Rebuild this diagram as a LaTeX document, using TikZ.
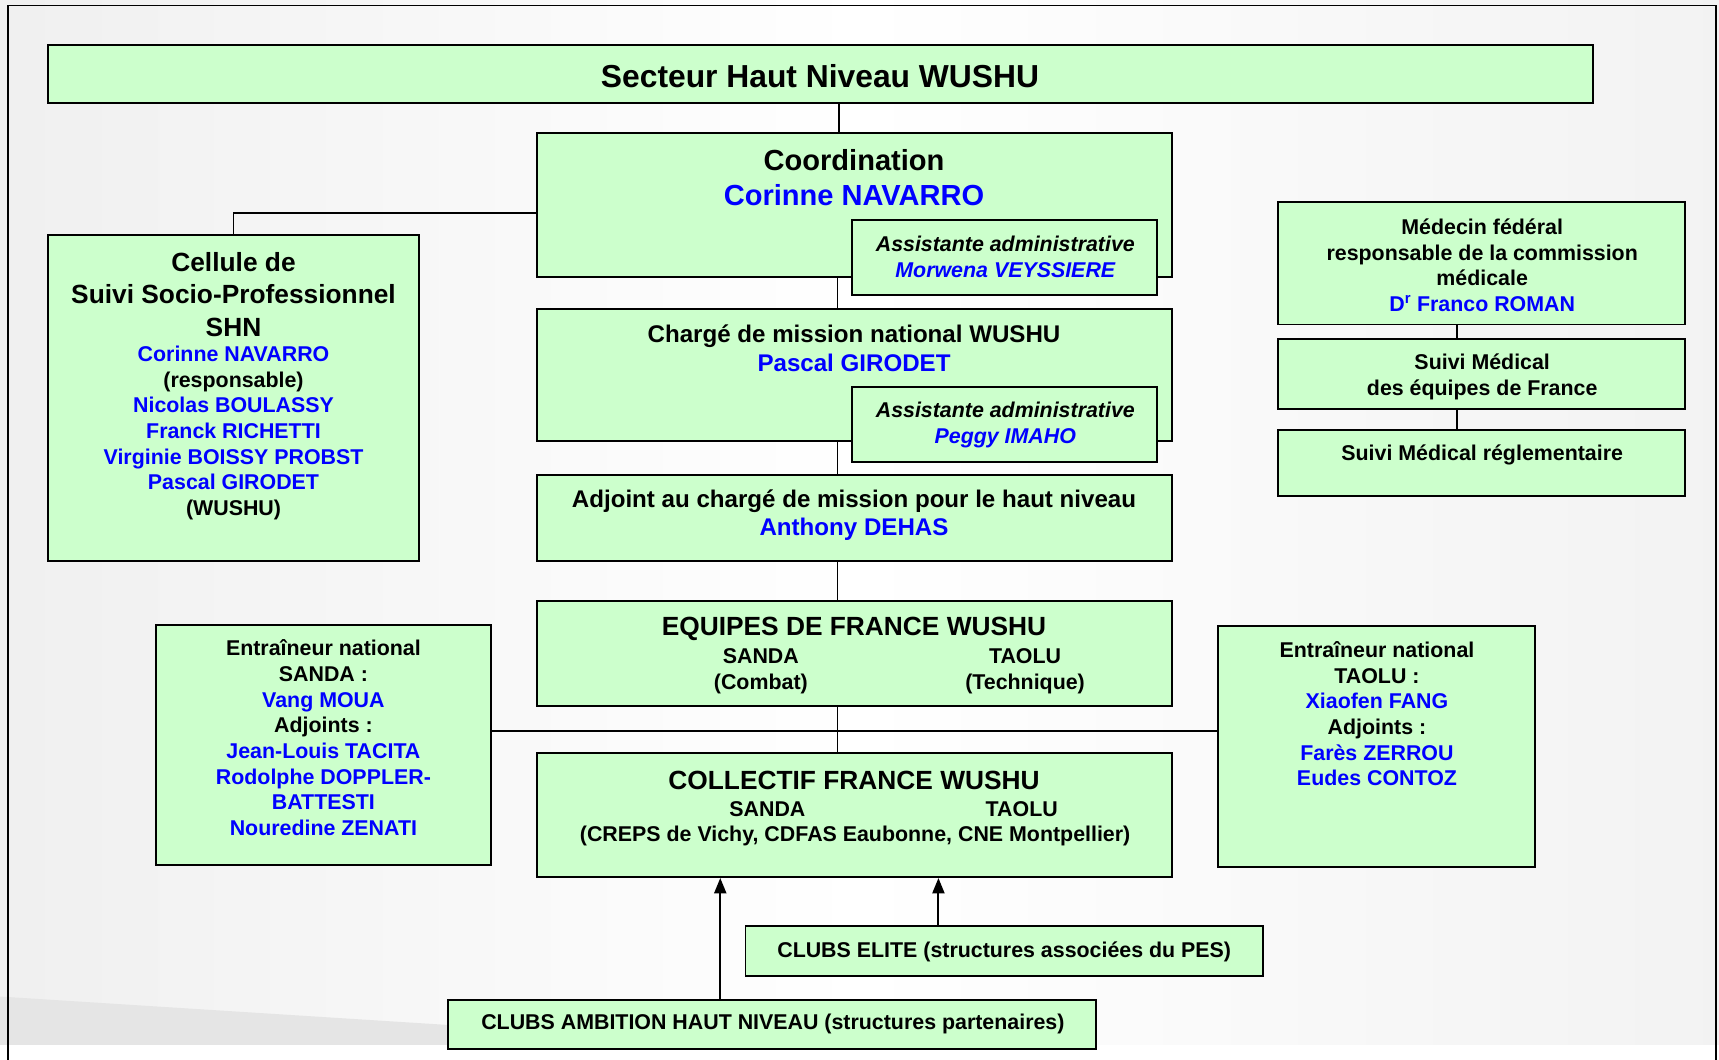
\documentclass[tikz,border=0pt]{standalone}
\usepackage{fontspec}
\setmainfont{Liberation Sans}
\usetikzlibrary{arrows.meta}
\definecolor{boxgreen}{HTML}{CCFFCC}
\definecolor{nameblue}{HTML}{0000FF}
\begin{document}
\begin{tikzpicture}[x=1pt,y=-1pt,
  box/.style={draw=black, fill=boxgreen, line width=1.8pt, inner sep=0pt},
  txt/.style={align=center, font=\fontsize{19.5}{23.4}\selectfont\bfseries, inner sep=0pt},
  big/.style={align=center, font=\fontsize{24}{29.5}\selectfont\bfseries, inner sep=0pt},
  mid/.style={align=center, font=\fontsize{22}{27}\selectfont\bfseries, inner sep=0pt},
  link/.style={line width=1.5pt},
  arr/.style={line width=1.8pt, -{Triangle[length=14pt,width=11pt]}}]
\useasboundingbox (0,0) rectangle (1568,966);
% background
\fill[white] (0,0) rectangle (1568,966);
\fill[left color=gray!12, right color=gray!10, middle color=white] (0,0) rectangle (1568,953);
\fill[gray!20] (0,909) -- (410,935) -- (410,953) -- (0,953) -- cycle;
\draw[line width=1.5pt] (7.5,970) -- (7.5,5) -- (1565,5) -- (1565,970);

% boxes
\node[box, minimum width=1409pt, minimum height=53pt] (title) at (748.5,67.5) {};
\node[box, minimum width=579pt, minimum height=132pt] (coord) at (779.5,187) {};
\node[box, minimum width=278pt, minimum height=68pt] (asst1) at (916,235) {};
\node[box, minimum width=338pt, minimum height=298pt] (cellule) at (213,363) {};
\node[box, minimum width=579pt, minimum height=120pt] (charge) at (779.5,342) {};
\node[box, minimum width=278pt, minimum height=68pt] (asst2) at (916,387) {};
\node[box, minimum width=579pt, minimum height=79pt] (adjoint) at (779.5,472.5) {};
\node[box, minimum width=579pt, minimum height=96pt] (equipes) at (779.5,596) {};
\node[box, minimum width=579pt, minimum height=113pt] (collectif) at (779.5,743.5) {};
\node[box, minimum width=306pt, minimum height=219pt] (sanda) at (295,679.5) {};
\node[box, minimum width=289pt, minimum height=220pt] (taolu) at (1255.5,681) {};
\node[box, minimum width=371pt, minimum height=112pt] (medecin) at (1351.5,240) {};
\node[box, minimum width=371pt, minimum height=64pt] (suivi1) at (1351.5,341) {};
\node[box, minimum width=371pt, minimum height=60pt] (suivi2) at (1351.5,422) {};
\node[box, minimum width=472pt, minimum height=45pt] (elite) at (916,867.5) {};
\node[box, minimum width=591pt, minimum height=45pt] (ambition) at (704.5,934.5) {};

% connectors
\coordinate (cx) at (765,0);
\coordinate (vx) at (764,0);
\coordinate (cy) at (0,194);
\coordinate (hy) at (0,667);
\coordinate (mx) at (1329,0);
\coordinate (ax) at (657,0);
\coordinate (ex) at (856,0);
\draw[link] (title.south -| cx) -- (coord.north -| cx);
\draw[link] (coord.west |- cy) -| (cellule.north);
\draw[link] (coord.south -| vx) -- (charge.north -| vx);
\draw[link] (charge.south -| vx) -- (adjoint.north -| vx);
\draw[link] (adjoint.south -| vx) -- (equipes.north -| vx);
\draw[link] (equipes.south -| vx) -- (collectif.north -| vx);
\draw[link] (sanda.east |- hy) -- (taolu.west |- hy);
\draw[link] (medecin.south -| mx) -- (suivi1.north -| mx);
\draw[link] (suivi1.south -| mx) -- (suivi2.north -| mx);
\draw[arr] (ambition.north -| ax) -- (collectif.south -| ax);
\draw[arr] (elite.north -| ex) -- (collectif.south -| ex);

% texts
\node[inner sep=0pt, font=\fontsize{29}{34}\selectfont\bfseries] (ttitle) at (748,69) {Secteur Haut Niveau WUSHU};
\node[align=center, inner sep=0pt, font=\fontsize{26.5}{32}\selectfont\bfseries] (tcoord) at (779,162) {Coordination\\\textcolor{nameblue}{Corinne NAVARRO}};
\node[txt, font=\fontsize{19.5}{24}\selectfont\bfseries\itshape] (tasst1) at (917,234) {Assistante administrative\\\textcolor{nameblue}{Morwena VEYSSIERE}};
\node[big] (tcell) at (213,268.5) {Cellule de\\Suivi Socio-Professionnel\\SHN};
\node[txt] (tcellnames) at (213,395) {\textcolor{nameblue}{Corinne NAVARRO}\\(responsable)\\\textcolor{nameblue}{Nicolas BOULASSY}\\\textcolor{nameblue}{Franck RICHETTI}\\\textcolor{nameblue}{Virginie BOISSY PROBST}\\\textcolor{nameblue}{Pascal GIRODET}\\(WUSHU)};
\node[mid] (tcharge) at (779,317.5) {Chargé de mission national WUSHU\\\textcolor{nameblue}{Pascal GIRODET}};
\node[txt, font=\fontsize{19.5}{23.4}\selectfont\bfseries\itshape] (tasst2) at (917,387.5) {Assistante administrative\\\textcolor{nameblue}{Peggy IMAHO}};
\node[mid, font=\fontsize{22}{26}\selectfont\bfseries] (tadjoint) at (779,470) {Adjoint au chargé de mission pour le haut niveau\\\textcolor{nameblue}{Anthony DEHAS}};
\node[big] (tequipes) at (779,574) {EQUIPES DE FRANCE WUSHU};
\node[txt] (teqsanda) at (694,612) {SANDA\\(Combat)};
\node[txt] (teqtaolu) at (935,612) {TAOLU\\(Technique)};
\node[big] (tcollectif) at (779,712) {COLLECTIF FRANCE WUSHU};
\node[txt] (tcolsanda) at (700,738.5) {SANDA};
\node[txt] (tcoltaolu) at (932,738.5) {TAOLU};
\node[txt] (tcolsites) at (780,762.5) {(CREPS de Vichy, CDFAS Eaubonne, CNE Montpellier)};
\node[txt] (tsanda) at (295,673) {Entraîneur national\\SANDA :\\\textcolor{nameblue}{Vang MOUA}\\Adjoints :\\\textcolor{nameblue}{Jean-Louis TACITA}\\\textcolor{nameblue}{Rodolphe DOPPLER-}\\\textcolor{nameblue}{BATTESTI}\\\textcolor{nameblue}{Nouredine ZENATI}};
\node[txt] (ttaolu) at (1256,651) {Entraîneur national\\TAOLU :\\\textcolor{nameblue}{Xiaofen FANG}\\Adjoints :\\\textcolor{nameblue}{Farès ZERROU}\\\textcolor{nameblue}{Eudes CONTOZ}};
\node[txt] (tmedecin) at (1352,242) {Médecin fédéral\\responsable de la commission\\médicale\\\textcolor{nameblue}{D\textsuperscript{r} Franco ROMAN}};
\node[txt] (tsuivi1) at (1352,343.5) {Suivi Médical\\des équipes de France};
\node[txt] (tsuivi2) at (1352,415) {Suivi Médical réglementaire};
\node[txt] (telite) at (916,868) {CLUBS ELITE (structures associées du PES)};
\node[txt] (tambition) at (705,934) {CLUBS AMBITION HAUT NIVEAU (structures partenaires)};
\end{tikzpicture}
\end{document}
